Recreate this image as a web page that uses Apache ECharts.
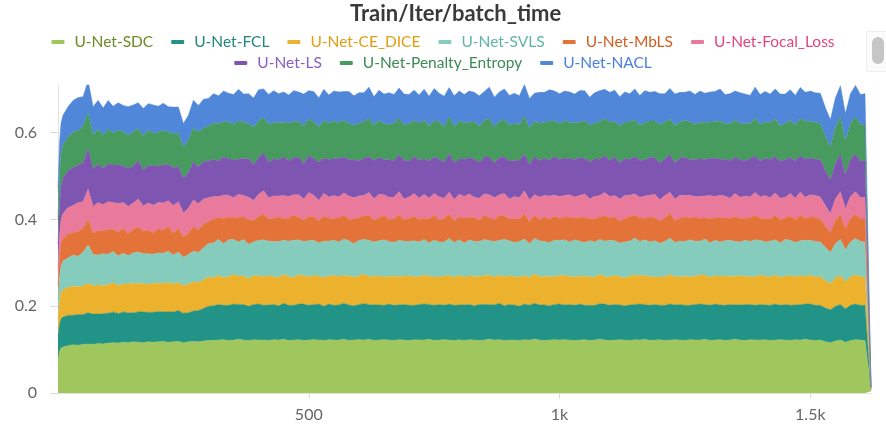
<!DOCTYPE html>
<html>
<head>
<meta charset="utf-8">
<title>Train/Iter/batch_time</title>
<script src="https://cdn.jsdelivr.net/npm/echarts@6/dist/echarts.min.js"></script>
<style>
  html, body { margin: 0; padding: 0; background: #fff; }
  #chart { width: 886px; height: 435px; }
</style>
</head>
<body>
<div id="chart"></div>
<script>
// sampled iterations (x)
const iters = [0, 3, 6,
  10, 20, 30, 40, 50, 60, 70, 80, 90, 100,
  110, 120, 130, 140, 150, 160, 170, 180, 190, 200,
  210, 220, 230, 240, 250, 260, 270, 280, 290, 300,
  310, 320, 330, 340, 350, 360, 370, 380, 390, 400,
  410, 420, 430, 440, 450, 460, 470, 480, 490, 500,
  510, 520, 530, 540, 550, 560, 570, 580, 590, 600,
  610, 620, 630, 640, 650, 660, 670, 680, 690, 700,
  710, 720, 730, 740, 750, 760, 770, 780, 790, 800,
  810, 820, 830, 840, 850, 860, 870, 880, 890, 900,
  910, 920, 930, 940, 950, 960, 970, 980, 990, 1000,
  1010, 1020, 1030, 1040, 1050, 1060, 1070, 1080, 1090, 1100,
  1110, 1120, 1130, 1140, 1150, 1160, 1170, 1180, 1190, 1200,
  1210, 1220, 1230, 1240, 1250, 1260, 1270, 1280, 1290, 1300,
  1310, 1320, 1330, 1340, 1350, 1360, 1370, 1380, 1390, 1400,
  1410, 1420, 1430, 1440, 1450, 1460, 1470, 1480, 1490, 1500,
  1510, 1520, 1530, 1540, 1550, 1560, 1570, 1580, 1590, 1600,
  1609, 1621];

// batch time per run (stacked in the chart)
const sdc = [0.075, 0.095, 0.104,
  0.106, 0.109, 0.111, 0.11, 0.112, 0.113, 0.112, 0.114, 0.113, 0.115,
  0.116, 0.115, 0.117, 0.116, 0.118, 0.117, 0.116, 0.118, 0.117, 0.118,
  0.119, 0.117, 0.118, 0.119, 0.116, 0.118, 0.119, 0.118, 0.12, 0.121,
  0.121, 0.122, 0.123, 0.121, 0.122, 0.124, 0.122, 0.121, 0.123, 0.122,
  0.122, 0.121, 0.123, 0.122, 0.124, 0.121, 0.122, 0.123, 0.121, 0.122,
  0.123, 0.122, 0.121, 0.123, 0.122, 0.122, 0.124, 0.121, 0.122, 0.123,
  0.122, 0.124, 0.121, 0.122, 0.123, 0.122, 0.121, 0.123, 0.122, 0.121,
  0.123, 0.122, 0.122, 0.124, 0.121, 0.122, 0.123, 0.122, 0.121, 0.123,
  0.121, 0.123, 0.122, 0.121, 0.122, 0.124, 0.122, 0.123, 0.121, 0.122,
  0.122, 0.121, 0.123, 0.122, 0.124, 0.122, 0.121, 0.122, 0.123, 0.122,
  0.123, 0.122, 0.121, 0.122, 0.123, 0.121, 0.122, 0.124, 0.122, 0.121,
  0.122, 0.123, 0.122, 0.121, 0.123, 0.122, 0.124, 0.121, 0.122, 0.123,
  0.121, 0.122, 0.123, 0.122, 0.121, 0.123, 0.122, 0.122, 0.124, 0.121,
  0.122, 0.123, 0.121, 0.122, 0.124, 0.122, 0.121, 0.123, 0.122, 0.122,
  0.123, 0.121, 0.122, 0.123, 0.122, 0.121, 0.123, 0.122, 0.124, 0.122,
  0.121, 0.122, 0.118, 0.116, 0.12, 0.122, 0.117, 0.121, 0.123, 0.122,
  0.121, 0.004];
const fcl = [0.058, 0.064, 0.067,
  0.069, 0.07, 0.068, 0.071, 0.069, 0.072, 0.07, 0.068, 0.07, 0.069,
  0.071, 0.068, 0.07, 0.069, 0.067, 0.07, 0.071, 0.068, 0.069, 0.07,
  0.068, 0.07, 0.069, 0.071, 0.068, 0.067, 0.07, 0.072, 0.075, 0.079,
  0.08, 0.082, 0.079, 0.081, 0.083, 0.08, 0.082, 0.079, 0.081, 0.083,
  0.08, 0.082, 0.081, 0.079, 0.083, 0.081, 0.08, 0.082, 0.084, 0.08,
  0.081, 0.083, 0.079, 0.082, 0.08, 0.081, 0.083, 0.082, 0.079, 0.081,
  0.084, 0.08, 0.082, 0.081, 0.079, 0.083, 0.081, 0.08, 0.082, 0.081,
  0.079, 0.082, 0.083, 0.08, 0.081, 0.082, 0.079, 0.083, 0.081, 0.08,
  0.082, 0.081, 0.079, 0.083, 0.082, 0.08, 0.081, 0.084, 0.08, 0.082,
  0.081, 0.079, 0.082, 0.08, 0.083, 0.081, 0.082, 0.079, 0.081, 0.083,
  0.08, 0.082, 0.081, 0.083, 0.079, 0.081, 0.08, 0.082, 0.083, 0.081,
  0.082, 0.08, 0.079, 0.082, 0.081, 0.083, 0.08, 0.081, 0.082, 0.079,
  0.081, 0.083, 0.08, 0.082, 0.081, 0.079, 0.082, 0.083, 0.08, 0.081,
  0.083, 0.08, 0.081, 0.082, 0.079, 0.081, 0.083, 0.081, 0.08, 0.082,
  0.08, 0.081, 0.083, 0.079, 0.082, 0.081, 0.08, 0.082, 0.081, 0.083,
  0.081, 0.08, 0.078, 0.076, 0.08, 0.082, 0.077, 0.081, 0.082, 0.08,
  0.081, 0.003];
const ceDice = [0.04, 0.052, 0.06,
  0.063, 0.065, 0.067, 0.064, 0.066, 0.068, 0.065, 0.067, 0.064, 0.066,
  0.067, 0.065, 0.064, 0.066, 0.068, 0.065, 0.066, 0.064, 0.067, 0.065,
  0.066, 0.068, 0.064, 0.065, 0.063, 0.066, 0.067, 0.065, 0.066, 0.067,
  0.065, 0.067, 0.064, 0.066, 0.068, 0.065, 0.066, 0.063, 0.067, 0.065,
  0.066, 0.068, 0.064, 0.065, 0.067, 0.066, 0.064, 0.068, 0.065, 0.066,
  0.067, 0.064, 0.066, 0.065, 0.068, 0.066, 0.063, 0.067, 0.065, 0.066,
  0.068, 0.064, 0.066, 0.067, 0.065, 0.064, 0.067, 0.066, 0.065, 0.068,
  0.066, 0.064, 0.067, 0.065, 0.066, 0.063, 0.067, 0.066, 0.065, 0.068,
  0.064, 0.066, 0.067, 0.065, 0.066, 0.068, 0.064, 0.065, 0.067, 0.066,
  0.065, 0.067, 0.066, 0.064, 0.068, 0.065, 0.066, 0.067, 0.064, 0.066,
  0.068, 0.065, 0.066, 0.064, 0.067, 0.066, 0.065, 0.068, 0.063, 0.066,
  0.067, 0.065, 0.064, 0.066, 0.068, 0.065, 0.067, 0.066, 0.064, 0.065,
  0.066, 0.068, 0.065, 0.064, 0.067, 0.066, 0.065, 0.067, 0.068, 0.064,
  0.065, 0.066, 0.068, 0.064, 0.066, 0.067, 0.065, 0.064, 0.066, 0.068,
  0.066, 0.065, 0.067, 0.064, 0.066, 0.068, 0.065, 0.066, 0.064, 0.067,
  0.065, 0.066, 0.063, 0.06, 0.065, 0.067, 0.062, 0.066, 0.067, 0.066,
  0.066, 0.002];
const svls = [0.04, 0.055, 0.062,
  0.066, 0.068, 0.072, 0.07, 0.078, 0.088, 0.072, 0.069, 0.074, 0.07,
  0.072, 0.068, 0.071, 0.066, 0.07, 0.073, 0.068, 0.071, 0.067, 0.07,
  0.069, 0.072, 0.067, 0.07, 0.066, 0.068, 0.071, 0.069, 0.074, 0.077,
  0.08, 0.083, 0.078, 0.085, 0.081, 0.079, 0.084, 0.08, 0.077, 0.082,
  0.085, 0.079, 0.081, 0.083, 0.078, 0.082, 0.086, 0.08, 0.079, 0.083,
  0.081, 0.077, 0.084, 0.08, 0.082, 0.079, 0.085, 0.081, 0.078, 0.082,
  0.08, 0.084, 0.079, 0.081, 0.086, 0.08, 0.078, 0.083, 0.081, 0.079,
  0.083, 0.08, 0.082, 0.077, 0.084, 0.081, 0.079, 0.085, 0.08, 0.082,
  0.078, 0.083, 0.081, 0.08, 0.084, 0.079, 0.082, 0.08, 0.086, 0.081,
  0.079, 0.082, 0.084, 0.078, 0.081, 0.083, 0.08, 0.079, 0.084, 0.081,
  0.082, 0.079, 0.085, 0.081, 0.078, 0.083, 0.081, 0.08, 0.082, 0.084,
  0.08, 0.078, 0.083, 0.081, 0.085, 0.079, 0.082, 0.08, 0.083, 0.078,
  0.081, 0.084, 0.079, 0.082, 0.08, 0.085, 0.081, 0.078, 0.083, 0.08,
  0.082, 0.079, 0.081, 0.084, 0.08, 0.078, 0.083, 0.081, 0.085, 0.08,
  0.079, 0.083, 0.081, 0.08, 0.084, 0.082, 0.079, 0.081, 0.083, 0.08,
  0.082, 0.08, 0.077, 0.072, 0.079, 0.083, 0.074, 0.08, 0.084, 0.081,
  0.08, 0.002];
const mbls = [0.035, 0.045, 0.05,
  0.052, 0.055, 0.051, 0.058, 0.054, 0.059, 0.05, 0.056, 0.053, 0.057,
  0.051, 0.055, 0.058, 0.05, 0.054, 0.057, 0.052, 0.055, 0.049, 0.056,
  0.053, 0.057, 0.05, 0.055, 0.046, 0.049, 0.056, 0.052, 0.054, 0.051,
  0.055, 0.05, 0.058, 0.053, 0.049, 0.057, 0.052, 0.056, 0.05, 0.055,
  0.059, 0.051, 0.054, 0.057, 0.05, 0.053, 0.058, 0.052, 0.049, 0.056,
  0.054, 0.051, 0.058, 0.053, 0.05, 0.056, 0.055, 0.049, 0.057, 0.052,
  0.054, 0.058, 0.05, 0.053, 0.056, 0.051, 0.055, 0.059, 0.05, 0.053,
  0.057, 0.052, 0.049, 0.055, 0.058, 0.051, 0.054, 0.056, 0.05, 0.053,
  0.058, 0.052, 0.055, 0.049, 0.056, 0.053, 0.051, 0.057, 0.054, 0.05,
  0.055, 0.052, 0.058, 0.051, 0.054, 0.049, 0.057, 0.053, 0.056, 0.05,
  0.053, 0.057, 0.051, 0.055, 0.058, 0.05, 0.054, 0.052, 0.059, 0.051,
  0.056, 0.05, 0.054, 0.057, 0.052, 0.055, 0.049, 0.058, 0.053, 0.051,
  0.055, 0.058, 0.05, 0.053, 0.057, 0.051, 0.056, 0.052, 0.049, 0.055,
  0.052, 0.056, 0.053, 0.05, 0.058, 0.054, 0.051, 0.055, 0.057, 0.05,
  0.054, 0.051, 0.057, 0.053, 0.05, 0.056, 0.052, 0.058, 0.051, 0.054,
  0.056, 0.052, 0.049, 0.046, 0.053, 0.057, 0.048, 0.054, 0.056, 0.052,
  0.053, 0.001];
const focal = [0.04, 0.05, 0.056,
  0.058, 0.06, 0.063, 0.066, 0.062, 0.07, 0.061, 0.065, 0.06, 0.064,
  0.062, 0.066, 0.059, 0.063, 0.061, 0.065, 0.058, 0.062, 0.064, 0.06,
  0.063, 0.059, 0.064, 0.061, 0.056, 0.058, 0.062, 0.06, 0.058, 0.055,
  0.052, 0.049, 0.054, 0.05, 0.047, 0.053, 0.049, 0.052, 0.046, 0.051,
  0.054, 0.049, 0.051, 0.048, 0.053, 0.05, 0.047, 0.052, 0.049, 0.055,
  0.05, 0.047, 0.052, 0.049, 0.053, 0.048, 0.051, 0.054, 0.049, 0.05,
  0.047, 0.052, 0.05, 0.054, 0.048, 0.051, 0.049, 0.053, 0.047, 0.05,
  0.052, 0.049, 0.055, 0.048, 0.05, 0.053, 0.047, 0.051, 0.049, 0.052,
  0.05, 0.054, 0.047, 0.051, 0.049, 0.053, 0.05, 0.048, 0.052, 0.046,
  0.051, 0.049, 0.053, 0.05, 0.047, 0.052, 0.049, 0.054, 0.048, 0.051,
  0.049, 0.052, 0.048, 0.05, 0.054, 0.047, 0.051, 0.049, 0.053, 0.05,
  0.048, 0.051, 0.053, 0.049, 0.05, 0.047, 0.052, 0.05, 0.054, 0.049,
  0.051, 0.048, 0.05, 0.053, 0.049, 0.052, 0.047, 0.051, 0.05, 0.054,
  0.049, 0.052, 0.05, 0.047, 0.053, 0.049, 0.051, 0.048, 0.052, 0.05,
  0.053, 0.049, 0.051, 0.05, 0.047, 0.052, 0.05, 0.054, 0.048, 0.051,
  0.05, 0.052, 0.047, 0.044, 0.05, 0.053, 0.046, 0.051, 0.052, 0.049,
  0.05, 0.001];
const ls = [0.055, 0.07, 0.078,
  0.082, 0.085, 0.088, 0.086, 0.09, 0.093, 0.087, 0.089, 0.084, 0.088,
  0.086, 0.09, 0.084, 0.088, 0.085, 0.089, 0.083, 0.087, 0.09, 0.085,
  0.088, 0.084, 0.087, 0.082, 0.08, 0.083, 0.088, 0.085, 0.087, 0.084,
  0.086, 0.082, 0.088, 0.084, 0.087, 0.081, 0.086, 0.089, 0.083, 0.085,
  0.088, 0.082, 0.086, 0.084, 0.089, 0.083, 0.085, 0.087, 0.081, 0.086,
  0.084, 0.088, 0.082, 0.086, 0.085, 0.089, 0.083, 0.084, 0.087, 0.082,
  0.086, 0.083, 0.088, 0.085, 0.081, 0.087, 0.084, 0.086, 0.089, 0.083,
  0.085, 0.088, 0.082, 0.086, 0.084, 0.087, 0.083, 0.089, 0.085, 0.082,
  0.086, 0.084, 0.088, 0.083, 0.085, 0.087, 0.081, 0.086, 0.084, 0.088,
  0.083, 0.087, 0.085, 0.082, 0.088, 0.084, 0.086, 0.083, 0.089, 0.085,
  0.087, 0.083, 0.086, 0.088, 0.082, 0.085, 0.087, 0.084, 0.086, 0.083,
  0.089, 0.084, 0.086, 0.082, 0.087, 0.085, 0.083, 0.088, 0.084, 0.086,
  0.085, 0.087, 0.083, 0.086, 0.088, 0.082, 0.085, 0.087, 0.084, 0.086,
  0.088, 0.083, 0.085, 0.087, 0.084, 0.086, 0.082, 0.088, 0.085, 0.083,
  0.086, 0.088, 0.084, 0.085, 0.087, 0.083, 0.086, 0.084, 0.088, 0.085,
  0.084, 0.086, 0.081, 0.077, 0.083, 0.087, 0.079, 0.085, 0.087, 0.084,
  0.085, 0];
const penalty = [0.06, 0.07, 0.074,
  0.076, 0.078, 0.081, 0.08, 0.084, 0.083, 0.078, 0.08, 0.076, 0.079,
  0.075, 0.078, 0.08, 0.076, 0.079, 0.074, 0.078, 0.081, 0.076, 0.077,
  0.079, 0.075, 0.078, 0.076, 0.072, 0.074, 0.078, 0.08, 0.077, 0.081,
  0.083, 0.086, 0.081, 0.085, 0.082, 0.088, 0.083, 0.08, 0.086, 0.084,
  0.081, 0.087, 0.083, 0.085, 0.08, 0.086, 0.084, 0.082, 0.088, 0.083,
  0.085, 0.081, 0.086, 0.084, 0.087, 0.082, 0.085, 0.083, 0.08, 0.086,
  0.084, 0.088, 0.082, 0.085, 0.083, 0.081, 0.087, 0.084, 0.082, 0.086,
  0.083, 0.085, 0.088, 0.081, 0.084, 0.086, 0.082, 0.085, 0.083, 0.087,
  0.084, 0.081, 0.086, 0.083, 0.085, 0.088, 0.082, 0.084, 0.086, 0.083,
  0.085, 0.082, 0.087, 0.084, 0.081, 0.086, 0.083, 0.088, 0.084, 0.082,
  0.086, 0.083, 0.085, 0.081, 0.087, 0.084, 0.082, 0.086, 0.085, 0.088,
  0.082, 0.085, 0.083, 0.087, 0.084, 0.081, 0.086, 0.083, 0.085, 0.088,
  0.084, 0.082, 0.086, 0.083, 0.085, 0.087, 0.081, 0.084, 0.086, 0.083,
  0.085, 0.088, 0.082, 0.084, 0.086, 0.083, 0.085, 0.081, 0.087, 0.084,
  0.083, 0.085, 0.087, 0.082, 0.084, 0.086, 0.083, 0.085, 0.088, 0.084,
  0.085, 0.083, 0.079, 0.076, 0.082, 0.086, 0.077, 0.083, 0.086, 0.084,
  0.084, 0];
const nacl = [0.07, 0.074, 0.071,
  0.068, 0.07, 0.073, 0.076, 0.068, 0.074, 0.065, 0.067, 0.063, 0.066,
  0.061, 0.064, 0.06, 0.066, 0.062, 0.059, 0.064, 0.061, 0.065, 0.06,
  0.063, 0.058, 0.062, 0.06, 0.054, 0.057, 0.064, 0.062, 0.066, 0.064,
  0.068, 0.064, 0.071, 0.066, 0.069, 0.073, 0.065, 0.07, 0.067, 0.072,
  0.066, 0.069, 0.074, 0.067, 0.07, 0.065, 0.071, 0.068, 0.073, 0.066,
  0.07, 0.067, 0.072, 0.065, 0.069, 0.071, 0.066, 0.074, 0.068, 0.07,
  0.067, 0.072, 0.065, 0.07, 0.068, 0.073, 0.066, 0.069, 0.071, 0.067,
  0.07, 0.065, 0.072, 0.068, 0.074, 0.066, 0.07, 0.067, 0.071, 0.069,
  0.065, 0.072, 0.068, 0.07, 0.066, 0.073, 0.069, 0.067, 0.071, 0.068,
  0.07, 0.066, 0.073, 0.068, 0.065, 0.071, 0.069, 0.074, 0.067, 0.07,
  0.068, 0.071, 0.066, 0.073, 0.069, 0.065, 0.07, 0.072, 0.067, 0.069,
  0.072, 0.067, 0.07, 0.065, 0.071, 0.069, 0.074, 0.066, 0.068, 0.071,
  0.066, 0.07, 0.073, 0.068, 0.065, 0.071, 0.069, 0.072, 0.067, 0.07,
  0.069, 0.074, 0.067, 0.07, 0.066, 0.072, 0.068, 0.065, 0.071, 0.069,
  0.071, 0.066, 0.069, 0.073, 0.067, 0.07, 0.068, 0.072, 0.066, 0.07,
  0.068, 0.07, 0.066, 0.063, 0.068, 0.071, 0.064, 0.069, 0.072, 0.07,
  0.07, 0];

const names = ["U-Net-SDC", "U-Net-FCL", "U-Net-CE_DICE", "U-Net-SVLS", "U-Net-MbLS",
  "U-Net-Focal_Loss", "U-Net-LS", "U-Net-Penalty_Entropy", "U-Net-NACL"];
const values = [sdc, fcl, ceDice, svls, mbls, focal, ls, penalty, nacl];
const areaColors = ["#a0c75d", "#229487", "#ecb22e", "#86ccbd", "#e37339",
  "#e97a9b", "#7e55b0", "#479b5f", "#5087d9"];
const textColors = ["#6b8b26", "#1f877a", "#e09d12", "#5fb5a1", "#cf5f20",
  "#e2457a", "#8a5dc2", "#3d8b56", "#4a7fe0"];
const xTicks = [500, 1000, 1500];
const yTicks = [0, 0.2, 0.4, 0.6];

const FONT = "Lato, 'Noto Sans', sans-serif";

function legendData(from, to) {
  let out = [];
  for (let i = from; i < to; i++) {
    out.push({
      name: names[i],
      itemStyle: { color: areaColors[i] },
      textStyle: { color: textColors[i] }
    });
  }
  return out;
}

function legendRow(from, to, top) {
  return {
    data: legendData(from, to),
    left: "center",
    top: top,
    icon: "roundRect",
    itemWidth: 13,
    itemHeight: 4,
    itemGap: 18,
    textStyle: { fontFamily: FONT, fontSize: 15.5, padding: [0, 0, 0, 5] }
  };
}

let chart = echarts.init(document.getElementById("chart"), null, { renderer: "canvas" });

chart.setOption({
  backgroundColor: "#fff",
  animation: false,
  title: {
    text: "Train/Iter/batch_time",
    left: 345,
    top: -2,
    textStyle: { fontFamily: FONT, fontSize: 22, fontWeight: "bold", color: "#3a3a3a" }
  },
  legend: [legendRow(0, 6, 29), legendRow(6, 9, 50)],
  grid: { left: 58, right: 15, top: 85, bottom: 42 },
  xAxis: {
    type: "value",
    min: 0,
    max: 1621,
    splitLine: { show: false },
    axisLine: { lineStyle: { color: "#e2e2e2", width: 1 } },
    axisTick: { customValues: xTicks, length: 6, lineStyle: { color: "#dcdcdc" } },
    axisLabel: {
      customValues: xTicks,
      margin: 14,
      fontFamily: FONT,
      fontSize: 16,
      color: "#666",
      formatter: v => (v >= 1000 ? v / 1000 + "k" : String(v))
    }
  },
  yAxis: {
    type: "value",
    min: 0,
    max: 0.71,
    splitLine: { show: false },
    axisLine: { show: true, lineStyle: { color: "#e2e2e2", width: 1 } },
    axisTick: { show: true, customValues: yTicks, length: 8, lineStyle: { color: "#dcdcdc" } },
    axisLabel: {
      customValues: yTicks,
      margin: 21,
      fontFamily: FONT,
      fontSize: 16,
      color: "#666"
    }
  },
  graphic: [
    { type: "rect", left: 866, top: 31, shape: { width: 20, height: 40 }, style: { fill: "#fbfbfb", stroke: "#efefef" } },
    { type: "rect", left: 872, top: 37, shape: { width: 12, height: 27, r: 6 }, style: { fill: "#c6c6c6" } }
  ],
  // rows are [time, iter] so the stack runs on the time values
  series: names.map((name, i) => ({
    name: name,
    type: "line",
    stack: "total",
    showSymbol: false,
    symbol: "none",
    color: areaColors[i],
    encode: { x: 1, y: 0 },
    lineStyle: { width: 0.5, color: areaColors[i] },
    areaStyle: { color: areaColors[i], opacity: 1 },
    data: iters.map((x, j) => [values[i][j], x])
  }))
});
</script>
</body>
</html>
